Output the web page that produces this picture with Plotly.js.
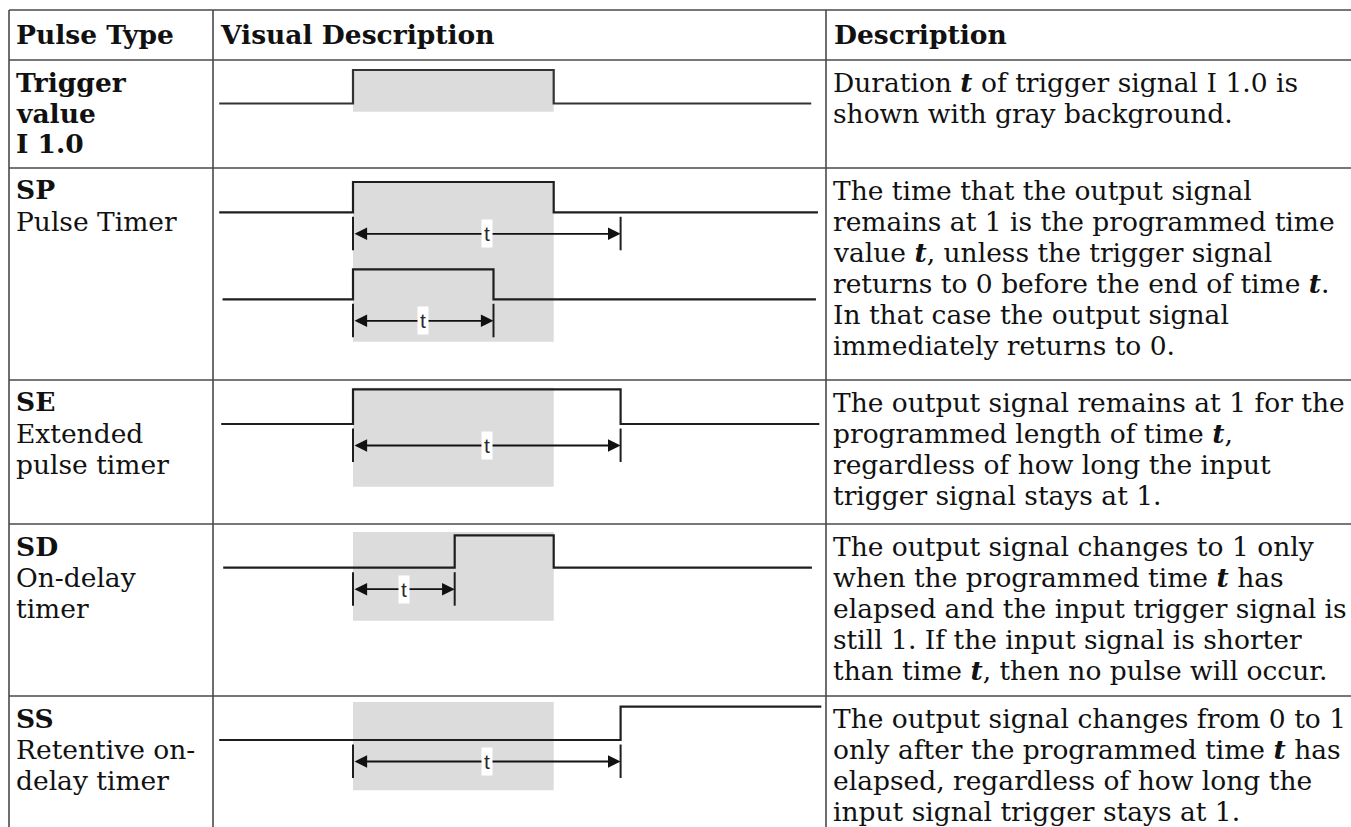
<!DOCTYPE html>
<html>
<head>
<meta charset="utf-8">
<script src="https://cdn.plot.ly/plotly-3.0.1.min.js"></script>
<style>
  html, body { margin: 0; padding: 0; background: #ffffff; overflow: hidden; }
  #chart { width: 1351px; height: 827px; }
</style>
</head>
<body>
<div id="chart"></div>
<script>
// ---------------- DATA ----------------
const headerLabels = ['Pulse Type', 'Visual Description', 'Description'];

const typeLabels = [
  ['<b>Trigger</b>', '<b>value</b>', '<b>I 1.0</b>'],
  ['<b>SP</b>', 'Pulse Timer'],
  ['<b>SE</b>', 'Extended', 'pulse timer'],
  ['<b>SD</b>', 'On-delay', 'timer'],
  ['<b>SS</b>', 'Retentive on-', 'delay timer']
];

const T = '<b><i>t</i></b>';
const descLines = [
  ['Duration ' + T + ' of trigger signal I 1.0 is', 'shown with gray background.'],
  ['The time that the output signal', 'remains at 1 is the programmed time',
   'value ' + T + ', unless the trigger signal', 'returns to 0 before the end of time ' + T + '.',
   'In that case the output signal', 'immediately returns to 0.'],
  ['The output signal remains at 1 for the', 'programmed length of time ' + T + ',',
   'regardless of how long the input', 'trigger signal stays at 1.'],
  ['The output signal changes to 1 only', 'when the programmed time ' + T + ' has',
   'elapsed and the input trigger signal is', 'still 1. If the input signal is shorter',
   'than time ' + T + ', then no pulse will occur.'],
  ['The output signal changes from 0 to 1', 'only after the programmed time ' + T + ' has',
   'elapsed, regardless of how long the', 'input signal trigger stays at 1.']
];

// waveforms: time (arbitrary units) and logic level
const trigTime = [0, 2, 5, 8.85];
const trigLevel = [0, 1, 0, 0];
const spTime = [0, 2, 5, 8.95];
const spLevel = [0, 1, 0, 0];
const spShortTime = [0.05, 2, 4.1, 8.92];
const spShortLevel = [0, 1, 0, 0];
const seTime = [0.03, 2, 6, 8.97];
const seLevel = [0, 1, 0, 0];
const sdTime = [0.06, 3.52, 5, 8.86];
const sdLevel = [0, 1, 0, 0];
const ssTime = [0, 6, 9.0];
const ssLevel = [0, 1, 1];

// trigger window (gray background) and timer spans t
const trigWindow = [2, 5];
const spTimer = [2, 6];
const spShortTimer = [2, 4.1];
const seTimer = [2, 6];
const sdTimer = [2, 3.52];
const ssTimer = [2, 6];

// ---------------- LAYOUT (pixels) ----------------
const W = 1351, H = 827;
const colX = [9, 213, 826];
const rowY = [10, 60, 168, 380, 524, 696];
const tOriginPx = 219.2, pxPerT = 66.9;

const diagrams = [
  { t: trigTime, v: trigLevel, base: 103.5, amp: 33.5, box: [70, 111.7], span: null, color: '#333333' },
  { t: spTime, v: spLevel, base: 212.3, amp: 30.3, box: [182, 341.7], span: spTimer, color: '#1e1e1e' },
  { t: spShortTime, v: spShortLevel, base: 299.3, amp: 30, box: null, span: spShortTimer, color: '#1e1e1e' },
  { t: seTime, v: seLevel, base: 424, amp: 34.7, box: [387.7, 486.7], span: seTimer, color: '#1e1e1e' },
  { t: sdTime, v: sdLevel, base: 567.7, amp: 32.4, box: [532, 620.7], span: sdTimer, color: '#1e1e1e' },
  { t: ssTime, v: ssLevel, base: 740, amp: 33.3, box: [702, 790.3], span: ssTimer, color: '#1e1e1e' }
];

const FONT = 'DejaVu Serif';
const BODY = 26.5;
const LINE = 31;
const GRID = '#4a4a4a';

const pxToT = p => (p - tOriginPx) / pxPerT;
const py = y => 1 - y / H;
const px = x => x / W;

const traces = [];
const shapes = [];
const annotations = [];
const layout = {
  width: W, height: H,
  margin: { l: 0, r: 0, t: 0, b: 0, pad: 0 },
  paper_bgcolor: '#ffffff',
  plot_bgcolor: 'rgba(0,0,0,0)',
  showlegend: false,
  xaxis: { domain: [colX[1] / W, colX[2] / W], range: [pxToT(colX[1]), pxToT(colX[2])], visible: false, fixedrange: true }
};

diagrams.forEach((d, i) => {
  const yName = i === 0 ? 'y' : 'y' + (i + 1);
  const yKey = i === 0 ? 'yaxis' : 'yaxis' + (i + 1);
  const lv = p => (d.base - p) / d.amp;
  const ax = { range: [lv(H), lv(0)], visible: false, fixedrange: true };
  if (i === 0) ax.domain = [0, 1]; else ax.overlaying = 'y';
  layout[yKey] = ax;

  if (d.box) {
    shapes.push({ type: 'rect', xref: 'x', yref: yName, x0: trigWindow[0], x1: trigWindow[1],
      y0: lv(d.box[1]), y1: lv(d.box[0]), fillcolor: '#dcdcdc', line: { width: 0 }, layer: 'below' });
  }

  traces.push({ type: 'scatter', mode: 'lines', x: d.t, y: d.v, xaxis: 'x', yaxis: yName,
    line: { shape: 'hv', color: d.color, width: 2.2 }, hoverinfo: 'skip' });

  if (d.span) {
    const yArrow = lv(d.base + 21.5);
    d.span.forEach(s => {
      shapes.push({ type: 'line', xref: 'x', yref: yName, x0: s, x1: s,
        y0: lv(d.base + 4.5), y1: lv(d.base + 38), line: { color: '#1e1e1e', width: 2 } });
    });
    annotations.push({ xref: 'x', yref: yName, axref: 'x', ayref: yName,
      x: d.span[1], y: yArrow, ax: d.span[0], ay: yArrow, text: '',
      showarrow: true, arrowhead: 2, arrowside: 'end+start', arrowsize: 1.4, arrowwidth: 1.8,
      arrowcolor: '#111111', standoff: 0, startstandoff: 0 });
    annotations.push({ xref: 'x', yref: yName, x: (d.span[0] + d.span[1]) / 2, y: yArrow,
      text: 't', showarrow: false, bgcolor: '#ffffff', borderpad: 2,
      font: { family: 'Liberation Sans', size: 21, color: '#2a2a2a' } });
  }
});

// table grid
rowY.forEach(y => {
  shapes.push({ type: 'line', xref: 'paper', yref: 'paper', x0: px(colX[0]), x1: 1.01, y0: py(y), y1: py(y),
    line: { color: GRID, width: 1.6 } });
});
colX.forEach(x => {
  shapes.push({ type: 'line', xref: 'paper', yref: 'paper', x0: px(x), x1: px(x), y0: py(rowY[0]), y1: -0.01,
    line: { color: GRID, width: 1.6 } });
});

// header text
const headerX = [14, 218, 832];
headerLabels.forEach((h, i) => {
  annotations.push({ xref: 'paper', yref: 'paper', x: px(headerX[i]), y: py(35), xanchor: 'left', yanchor: 'middle',
    text: '<b>' + h + '</b>', showarrow: false, font: { family: FONT, size: BODY, color: '#111111' } });
});

// body text
for (let r = 0; r < typeLabels.length; r++) {
  const top = rowY[r + 1];
  typeLabels[r].forEach((line, k) => {
    annotations.push({ xref: 'paper', yref: 'paper', x: px(14), y: py(top + 22 + k * LINE), xanchor: 'left', yanchor: 'middle',
      text: line, showarrow: false, font: { family: FONT, size: BODY, color: '#111111' } });
  });
  descLines[r].forEach((line, k) => {
    annotations.push({ xref: 'paper', yref: 'paper', x: px(831), y: py(top + 22.5 + k * LINE), xanchor: 'left', yanchor: 'middle',
      text: line, showarrow: false, font: { family: FONT, size: BODY, color: '#111111' } });
  });
}

layout.shapes = shapes;
layout.annotations = annotations;

Plotly.newPlot('chart', traces, layout, { staticPlot: true, displayModeBar: false });
</script>
</body>
</html>
